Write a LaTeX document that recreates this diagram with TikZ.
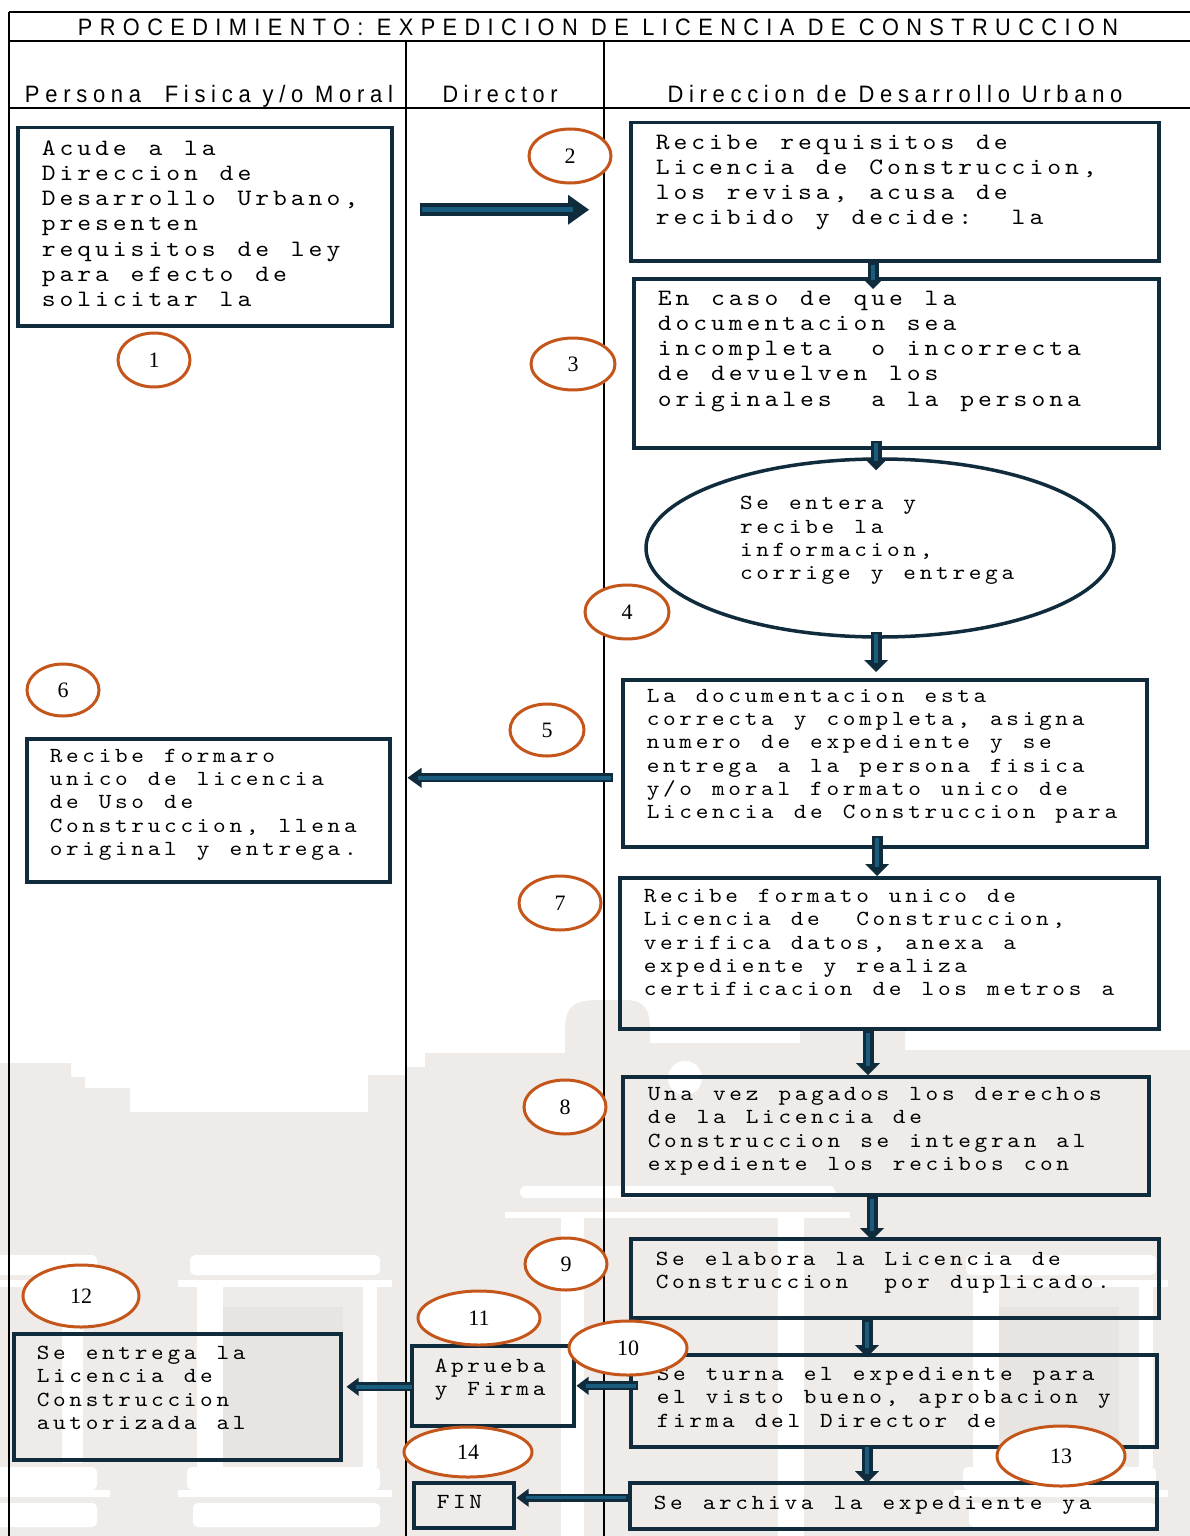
\documentclass[tikz,border=0pt]{standalone}
\usepackage{fontspec}
\usepackage{graphicx}
\setmainfont{Liberation Serif}
\newfontfamily\hdrfont{Liberation Sans}
\newfontfamily\monofont[FakeStretch=1.12]{lmmono10-regular.otf}
\usetikzlibrary{shapes.geometric,arrows.meta,calc}
\definecolor{navy}{HTML}{0F2B3C}
\definecolor{tealc}{HTML}{1A5C7E}
\definecolor{orng}{HTML}{C5561B}
\definecolor{wmg}{HTML}{EEEBE8}
\definecolor{wmd}{HTML}{E8E4E1}
\newlength\mpitch
\ExplSyntaxOn
\cs_new_protected:Npn \mono_line:n #1
  {
    \hbox:n
      {
        \strut
        \str_map_inline:nn {#1}
          {
            \str_if_eq:nnTF {##1} {_}
              { \hbox_to_wd:nn { \mpitch } { \hfil } }
              { \hbox_to_wd:nn { \mpitch } { ##1 \hfil } }
          }
      }
  }
\NewDocumentCommand \mtext { m }
  {
    \seq_set_split:Nnn \l_tmpa_seq { | } {#1}
    \vtop { \seq_map_inline:Nn \l_tmpa_seq { \mono_line:n {##1} } }
  }
\ExplSyntaxOff
\newcommand\fontB{\fontsize{23.5}{25.3}\selectfont\monofont\setlength\mpitch{17.8pt}}
\newcommand\fontS{\fontsize{21.5}{23.2}\selectfont\monofont\setlength\mpitch{16.35pt}}
\newcommand\offB{11.4}
\newcommand\offS{10.4}
\tikzset{
  pbox/.style={draw=navy, line width=3.5pt, anchor=north west},
  numb/.style={ellipse, draw=orng, line width=3pt, fill=white, inner sep=0pt,
    font=\fontsize{22}{22}\selectfont},
  frame/.style={black, line width=2pt},
  hdr/.style={anchor=base, inner sep=0pt},
  wmw/.style={fill=white, rounded corners=5pt},
}
\newcommand\hdrtext[4]{\resizebox{#1pt}{#2pt}{\raisebox{0pt}[17.18pt][0pt]{\fontsize{24}{24}\hdrfont\addfontfeature{LetterSpace=#3}#4}}}
\newcommand\mkbox[9]{%
  \pgfmathsetmacro\mbxs{#6-#2}%
  \pgfmathsetmacro\mbys{#7-\csname off#8\endcsname-#3}%
  \pgfmathsetmacro\mbw{#4-#2-2*\mbxs}%
  \pgfmathsetmacro\mbh{#5-#3-2*\mbys}%
  \node[pbox, inner xsep=\mbxs pt, inner ysep=\mbys pt] (#1) at (#2,#3)
    {\parbox[t][\mbh pt][t]{\mbw pt}{\csname font#8\endcsname\noindent\mtext{#9}\par}};}
\newcommand\blk[5]{%
  \path ($(#2)!#4pt!(#1)$) coordinate (#2b);
  \draw[navy, line width=#3pt] (#1) -- ($(#2b)!1pt!(#2)$);
  \fill[navy] ($(#2b)!#5pt!90:(#2)$) -- (#2) -- ($(#2b)!#5pt!-90:(#2)$) -- cycle;
  \draw[tealc, line width=0.4*#3pt] ($(#1)!2pt!(#2)$) -- ($(#2b)!0.25!(#2)$);}
\begin{document}
\begin{tikzpicture}[x=1pt,y=-1pt]
\useasboundingbox (0,0) rectangle (1190,1536);
% watermark
\fill[wmg] (0,1063) -- (71,1063) -- (71,1077) -- (85,1077) -- (85,1088) -- (130,1088)
  -- (130,1112) -- (368,1112) -- (368,1075) -- (405,1075) -- (405,1067) -- (425,1067)
  -- (425,1053) -- (565,1053) -- (565,1030) .. controls (565,1005) and (575,1000) .. (600,1000)
  -- (625,1000) .. controls (645,1000) and (650,1010) .. (650,1030) -- (650,1043)
  -- (800,1043) -- (800,1030) -- (905,1030) -- (905,1050) -- (1190,1050) -- (1190,1536)
  -- (0,1536) -- cycle;
\fill[white] (685,1078) circle (17);
\fill[wmw] (520,1186) rectangle (835,1198);
\fill[white] (505,1212) rectangle (850,1218);
\fill[white] (561,1218) rectangle (584,1536);
\fill[white] (778,1218) rectangle (804,1536);
\foreach \ox in {0,776} {
  \fill[wmw] (190+\ox,1255) rectangle (380+\ox,1275);
  \fill[white] (178+\ox,1280) rectangle (392+\ox,1287);
  \fill[white] (197+\ox,1287) rectangle (223+\ox,1467);
  \fill[white] (363+\ox,1287) rectangle (377+\ox,1467);
  \fill[wmd] (223+\ox,1307) rectangle (343+\ox,1463);
  \fill[wmw] (187+\ox,1467) rectangle (380+\ox,1490);
  \fill[white] (178+\ox,1490) rectangle (392+\ox,1497);
  \fill[wmw] (193+\ox,1503) rectangle (380+\ox,1527);
}
\fill[wmw] (-10,1255) rectangle (97,1275);
\fill[white] (0,1280) rectangle (110,1287);
\fill[white] (62,1303) rectangle (83,1463);
\fill[wmw] (-10,1467) rectangle (97,1490);
\fill[white] (0,1490) rectangle (110,1497);
\fill[wmw] (-10,1503) rectangle (97,1527);
% frame
\draw[black, line width=1.5pt] (9,12) -- (9,1536);
\draw[frame] (9,12) -- (1190,12);
\draw[frame] (9,41) -- (1190,41);
\draw[frame] (9,108) -- (1190,108);
\draw[frame] (406,41) -- (406,1536);
\draw[frame] (604,41) -- (604,1536);
% headers
\node[hdr] (title) at (598,36) {\hdrtext{1040}{17}{34}{PROCEDIMIENTO: EXPEDICION DE LICENCIA DE CONSTRUCCION}};
\node[hdr] (h1) at (209,103) {\hdrtext{368}{17}{26}{Persona\ \ Fisica y/o Moral}};
\node[hdr] (h2) at (500,103) {\hdrtext{115}{17}{26}{Director}};
\node[hdr] (h3) at (895,103) {\hdrtext{455}{17}{26}{Direccion de Desarrollo Urbano}};
% boxes
\mkbox{b1}{16}{126}{390}{324}{40}{147}{B}{Acude a la|Direccion de|Desarrollo Urbano,|presenten|requisitos de ley|para efecto de|solicitar la}
\mkbox{b2}{629}{121}{1157}{259}{654}{141}{B}{Recibe requisitos de|Licencia de Construccion,|los revisa, acusa de|recibido y decide: _la}
\mkbox{b3}{632}{277}{1157}{446}{656}{297}{B}{En caso de que la|documentacion sea|incompleta _o incorrecta|de devuelven los|originales _a la persona}
\node[ellipse, draw=navy, line width=3.5pt, fill=white, minimum width=468pt, minimum height=178pt, inner sep=0pt] (e4) at (880,548)
  {\parbox{280pt}{\fontS\noindent\mtext{Se entera y|recibe la|informacion,|corrige y entrega}\par\vspace{16pt}}};
\mkbox{b5}{621}{678}{1145}{845}{645}{695}{S}{La documentacion esta|correcta y completa, asigna|numero de expediente y se|entrega a la persona fisica|y/o moral formato unico de|Licencia de Construccion para}
\mkbox{b6}{25}{737}{388}{880}{48}{755}{S}{Recibe formaro|unico de licencia|de Uso de|Construccion, llena|original y entrega.}
\mkbox{b7}{618}{876}{1157}{1027}{642}{895}{S}{Recibe formato unico de|Licencia de _Construccion,|verifica datos, anexa a|expediente y realiza|certificacion de los metros a}
\mkbox{b8}{621}{1075}{1147}{1193}{646}{1093}{S}{Una vez pagados los derechos|de la Licencia de|Construccion se integran al|expediente los recibos con}
\mkbox{b9}{629}{1237}{1157}{1316}{654}{1258}{S}{Se elabora la Licencia de|Construccion _por duplicado.}
\mkbox{b10}{629}{1353}{1155}{1445}{655}{1373}{S}{Se turna el expediente para|el visto bueno, aprobacion y|firma del Director de}
\mkbox{b11}{410}{1344}{572}{1424}{433}{1365}{S}{Aprueba|y Firma}
\mkbox{b12}{12}{1332}{339}{1458}{35}{1352}{S}{Se entrega la|Licencia de|Construccion|autorizada al}
\mkbox{b13}{628}{1481}{1155}{1527}{652}{1502}{S}{Se archiva la expediente ya}
\mkbox{fin}{412}{1481}{512}{1526}{435}{1501}{S}{FIN}
% connectors
\coordinate (a12s) at ($(b1.east)+(26,-17)$);
\coordinate (a12e) at ($(b2.west)+(-40,18)$);
\blk{a12s}{a12e}{13}{21}{15}
\coordinate (d23s) at (873,0 |- b2.south);
\coordinate (d23e) at ($(873,0 |- b3.north)+(0,12)$);
\blk{d23s}{d23e}{11}{12}{12}
\coordinate (d34s) at ($(876,0 |- b3.south)+(0,-9)$);
\coordinate (d34e) at ($(876,0 |- e4.north)+(0,13)$);
\blk{d34s}{d34e}{11}{12}{12}
\coordinate (d45s) at ($(876,0 |- e4.south)+(0,-7)$);
\coordinate (d45e) at ($(876,0 |- b5.north)+(0,-6)$);
\blk{d45s}{d45e}{11}{12}{12}
\coordinate (d57s) at ($(877,0 |- b5.south)+(0,-13)$);
\coordinate (d57e) at (877,0 |- b7.north);
\blk{d57s}{d57e}{11}{12}{12}
\coordinate (d78s) at (868,0 |- b7.south);
\coordinate (d78e) at (868,0 |- b8.north);
\blk{d78s}{d78e}{11}{12}{12}
\coordinate (d89s) at (872,0 |- b8.south);
\coordinate (d89e) at ($(872,0 |- b9.north)+(0,3)$);
\blk{d89s}{d89e}{11}{12}{12}
\coordinate (d910s) at (867,0 |- b9.south);
\coordinate (d910e) at ($(867,0 |- b10.north)+(0,4)$);
\blk{d910s}{d910e}{11}{12}{12}
\coordinate (d1013s) at ($(867,0 |- b10.south)+(0,-4)$);
\coordinate (d1013e) at ($(867,0 |- b13.north)+(0,2)$);
\blk{d1013s}{d1013e}{11}{12}{12}
\coordinate (l56s) at ($(b5.west)+(-8,14.5)$);
\coordinate (l56e) at ($(b6.east)+(16,-32.5)$);
\blk{l56s}{l56e}{9}{14}{10}
\coordinate (l1011s) at ($(b10.west)+(9,-15)$);
\coordinate (l1011e) at ($(b11.east)+(1,0)$);
\blk{l1011s}{l1011e}{9}{12}{9}
\coordinate (l1112s) at ($(b11.west)+(4,1)$);
\coordinate (l1112e) at ($(b12.east)+(4,-10)$);
\blk{l1112s}{l1112e}{9}{12}{9}
\coordinate (l13fs) at ($(b13.west)+(0,-8)$);
\coordinate (l13fe) at ($(fin.east)+(1,-7.5)$);
\blk{l13fs}{l13fe}{8}{12}{9}
% step numbers
\node[numb, minimum width=72pt, minimum height=54pt] (n1) at (154,360) {1};
\node[numb, minimum width=82pt, minimum height=54pt] (n2) at (570,156) {2};
\node[numb, minimum width=84pt, minimum height=52pt] (n3) at (573,364) {3};
\node[numb, minimum width=84pt, minimum height=54pt] (n4) at (627,612) {4};
\node[numb, minimum width=74pt, minimum height=52pt] (n5) at (547,730) {5};
\node[numb, minimum width=72pt, minimum height=52pt] (n6) at (63,690) {6};
\node[numb, minimum width=82pt, minimum height=54pt] (n7) at (560,903) {7};
\node[numb, minimum width=82pt, minimum height=54pt] (n8) at (565,1107) {8};
\node[numb, minimum width=82pt, minimum height=52pt] (n9) at (566,1264) {9};
\node[numb, minimum width=118pt, minimum height=54pt] (n10) at (628,1348) {10};
\node[numb, minimum width=122pt, minimum height=54pt] (n11) at (479,1318) {11};
\node[numb, minimum width=116pt, minimum height=62pt] (n12) at (81,1296) {12};
\node[numb, minimum width=128pt, minimum height=60pt] (n13) at (1061,1456) {13};
\node[numb, minimum width=128pt, minimum height=50pt] (n14) at (468,1452) {14};
\end{tikzpicture}
\end{document}
